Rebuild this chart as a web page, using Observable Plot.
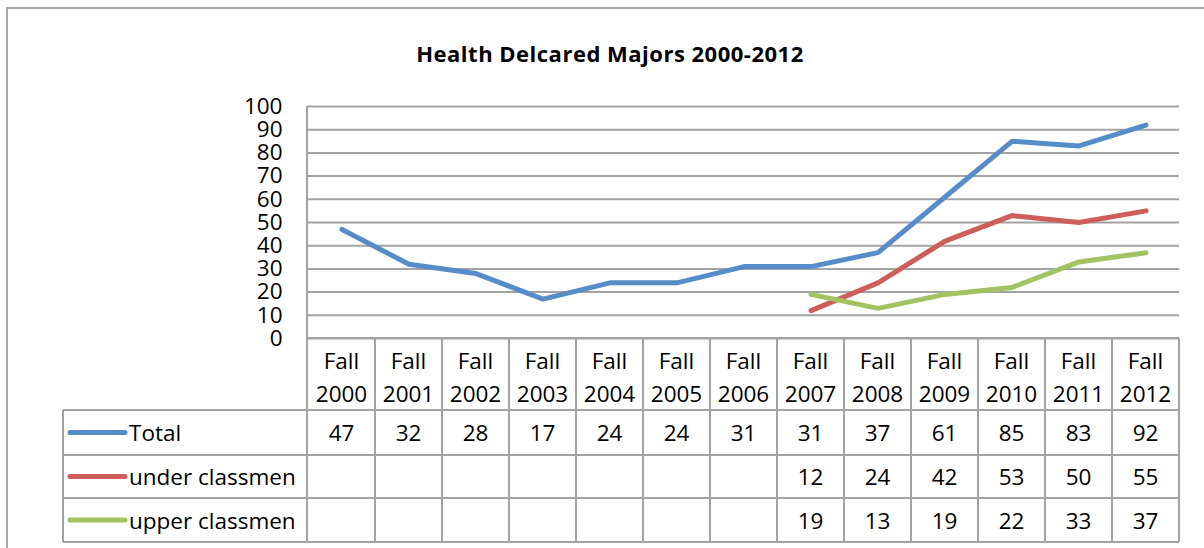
<!DOCTYPE html>
<html><head><meta charset="utf-8">
<script src="https://cdn.jsdelivr.net/npm/d3@7"></script>
<script src="https://cdn.jsdelivr.net/npm/@observablehq/plot@0.6"></script>
<style>
html,body{margin:0;padding:0;background:#fff;overflow:hidden}
#wrap{position:relative;width:1204px;height:548px;font-family:"Open Sans","Noto Sans",sans-serif;overflow:hidden}
#frame{position:absolute;left:6px;top:7px;width:1400px;height:800px;border-left:2px solid #a6a6a6;border-top:2px solid #a6a6a6}
#title{position:absolute;left:0;width:1220px;top:38px;text-align:center;font-weight:bold;font-size:22px;letter-spacing:0.5px;line-height:30px;color:#000}
#chart{position:absolute;left:0;top:0}
</style></head>
<body><div id="wrap"><div id="frame"></div><div id="title">Health Delcared Majors 2000-2012</div><div id="chart"></div></div>
<script>
const categories = ["Fall 2000","Fall 2001","Fall 2002","Fall 2003","Fall 2004","Fall 2005","Fall 2006","Fall 2007","Fall 2008","Fall 2009","Fall 2010","Fall 2011","Fall 2012"];
const seriesNames = ["Total","under classmen","upper classmen"];
const total = [47,32,28,17,24,24,31,31,37,61,85,83,92];
const under = [null,null,null,null,null,null,null,12,24,42,53,50,55];
const upper = [null,null,null,null,null,null,null,19,13,19,22,33,37];
const colors = ["#568DC8","#CD5E59","#A3C262"];
const yTicks = [0,10,20,30,40,50,60,70,80,90,100];

const seriesValues = [total, under, upper];
const rows = [];
seriesNames.forEach((s, i) => categories.forEach((c, j) => {
  if (seriesValues[i][j] != null) rows.push({series: s, cat: c, value: seriesValues[i][j]});
}));

const FS = 22.5;
const GRID = "#a3a3a3";
const chart = Plot.plot({
  width: 1204, height: 548,
  marginLeft: 307, marginRight: 25, marginTop: 106, marginBottom: 210,
  style: {fontFamily: "'Open Sans', 'Noto Sans', sans-serif", fontSize: FS + "px", background: "transparent", color: "#000"},
  x: {type: "band", domain: categories, padding: 0, axis: null},
  y: {domain: [0, 100], axis: null},
  color: {domain: seriesNames, range: colors},
  marks: [
    Plot.ruleY(yTicks, {stroke: GRID, strokeWidth: 2}),
    Plot.axisY({ticks: yTicks, tickSize: 0, tickPadding: 25, fontSize: FS, label: null}),
    Plot.line(rows, {x: "cat", y: "value", z: "series", stroke: "series", strokeWidth: 5, strokeLinecap: "round", strokeLinejoin: "round"})
  ]
});
document.getElementById("chart").appendChild(chart);

// data table beneath the plot, positioned with the plot's own x scale
const xs = chart.scale("x");
const svg = d3.select(chart);
const g = svg.append("g");
const left = xs.range[0], right = xs.range[1];
const bw = xs.bandwidth;
const yTop = 106, yAxis = 338, rowLines = [410, 455, 498, 542], legendLeft = 63;
const line = (x1, y1, x2, y2) => g.append("line").attr("x1", x1).attr("y1", y1).attr("x2", x2).attr("y2", y2)
  .attr("stroke", GRID).attr("stroke-width", 2);
line(left, yTop, left, rowLines[3]);
categories.forEach((c, i) => { const x = xs.apply(c) + bw; line(x, yAxis, x, rowLines[3]); });
line(legendLeft, rowLines[0], legendLeft, rowLines[3]);
line(left, yAxis, right, yAxis);
rowLines.forEach(y => line(legendLeft, y, right, y));
const txt = (x, y, s, anchor) => g.append("text").attr("x", x).attr("y", y).attr("text-anchor", anchor)
  .attr("dominant-baseline", "central").attr("font-size", FS).attr("fill", "#000").text(s);
categories.forEach(c => {
  const cx = xs.apply(c) + bw / 2;
  const [a, b] = c.split(" ");
  txt(cx, 360, a, "middle");
  txt(cx, 393, b, "middle");
});
seriesNames.forEach((s, i) => {
  const cy = (rowLines[i] + rowLines[i + 1]) / 2;
  g.append("line").attr("x1", 70).attr("x2", 125).attr("y1", cy).attr("y2", cy)
    .attr("stroke", colors[i]).attr("stroke-width", 5).attr("stroke-linecap", "round");
  txt(129, cy, s, "start");
  categories.forEach((c, j) => {
    const v = seriesValues[i][j];
    if (v != null) txt(xs.apply(c) + bw / 2, cy, String(v), "middle");
  });
});
</script>
</body></html>
